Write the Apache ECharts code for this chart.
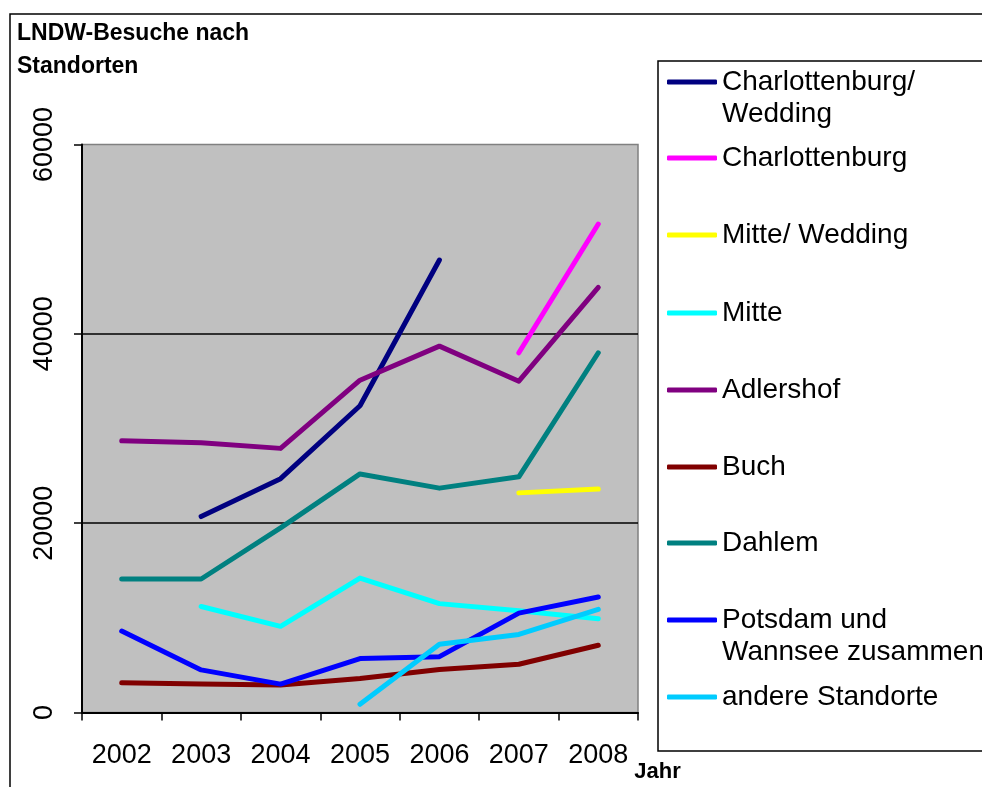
<!DOCTYPE html>
<html><head><meta charset="utf-8">
<script src="https://cdn.jsdelivr.net/npm/echarts@6/dist/echarts.min.js"></script>
<style>html,body{margin:0;padding:0;background:#fff}#c{width:982px;height:787px}</style>
</head><body><div id="c"></div>
<script>
const years = ['2002', '2003', '2004', '2005', '2006', '2007', '2008'];
const charlottenburgWedding = [null, 20700, 24700, 32400, 47800, null, null];
const charlottenburg = [null, null, null, null, null, 38000, 51600];
const mitteWedding = [null, null, null, null, null, 23200, 23600];
const mitte = [null, 11200, 9100, 14200, 11500, 10750, 9900];
const adlershof = [28700, 28500, 27900, 35100, 38700, 35000, 44900];
const buch = [3150, 3000, 2900, 3600, 4550, 5100, 7100];
const dahlem = [14100, 14100, 19500, 25200, 23700, 24900, 38000];
const potsdamWannsee = [8600, 4500, 3000, 5700, 5900, 10500, 12200];
const andereStandorte = [null, null, null, 870, 7200, 8250, 10900];

const seriesNames = ['Charlottenburg/ Wedding', 'Charlottenburg', 'Mitte/ Wedding', 'Mitte', 'Adlershof', 'Buch', 'Dahlem', 'Potsdam und Wannsee zusammen', 'andere Standorte'];
const legendLabels = ['Charlottenburg/\nWedding', 'Charlottenburg', 'Mitte/ Wedding', 'Mitte', 'Adlershof', 'Buch', 'Dahlem', 'Potsdam und\nWannsee zusammen', 'andere Standorte'];
const seriesData = [charlottenburgWedding, charlottenburg, mitteWedding, mitte, adlershof, buch, dahlem, potsdamWannsee, andereStandorte];
const seriesColors = ['#000080', '#FF00FF', '#FFFF00', '#00FFFF', '#800080', '#800000', '#008080', '#0000FF', '#00CCFF'];
const yMin = 0, yMax = 60000, yInterval = 20000;

const FONT = '"Liberation Sans", Arial, sans-serif';
const legendCenters = [81, 157, 234, 312, 389, 466, 542, 619, 696];
const LH = 32;

const legends = seriesNames.map((name, i) => {
  const twoLine = legendLabels[i].indexOf('\n') >= 0;
  // two-line labels get an empty first line so the first text line sits beside the icon
  const label = twoLine ? '\n' + legendLabels[i] : legendLabels[i];
  const boxH = LH * (twoLine ? 3 : 1);
  return {
    data: [name],
    orient: 'vertical',
    left: 667,
    top: legendCenters[i] - boxH / 2 + 1,
    padding: 0,
    itemWidth: 50,
    itemHeight: 5,
    icon: 'roundRect',
    formatter: () => label,
    textStyle: {fontFamily: FONT, fontSize: 28, color: '#000', lineHeight: LH}
  };
});

const chart = echarts.init(document.getElementById('c'), null, {renderer: 'canvas'});
chart.setOption({
  animation: false,
  backgroundColor: '#fff',
  title: {
    text: 'LNDW-Besuche nach\nStandorten',
    left: 17, top: 17, padding: 0,
    textStyle: {fontFamily: FONT, fontSize: 23, fontWeight: 'bold', color: '#000', lineHeight: 33}
  },
  graphic: [
    {type: 'rect', z: -10, shape: {x: 10, y: 14, width: 1000, height: 900}, style: {fill: 'none', stroke: '#000', lineWidth: 1.5}},
    {type: 'rect', z: -10, shape: {x: 658, y: 61, width: 400, height: 690}, style: {fill: '#fff', stroke: '#000', lineWidth: 1.5}}
  ],
  legend: legends,
  grid: {
    left: 82, top: 144.5, right: 344, bottom: 74.5,
    containLabel: false, outerBoundsMode: 'none',
    show: true, backgroundColor: '#C0C0C0', borderColor: '#808080', borderWidth: 1.5
  },
  xAxis: {
    type: 'category',
    data: years,
    boundaryGap: true,
    name: 'Jahr',
    nameLocation: 'end',
    nameGap: -8,
    nameTextStyle: {fontFamily: FONT, fontSize: 22, fontWeight: 'bold', color: '#000', align: 'left', verticalAlign: 'top', lineHeight: 119},
    axisLine: {lineStyle: {color: '#000', width: 2}},
    axisTick: {show: true, length: 8, lineStyle: {color: '#000', width: 1.5}},
    axisLabel: {interval: 0, margin: 30, fontFamily: FONT, fontSize: 27, color: '#000'},
    splitLine: {show: false}
  },
  yAxis: {
    type: 'value',
    min: yMin, max: yMax, interval: yInterval,
    axisLine: {show: true, lineStyle: {color: '#000', width: 2}},
    axisTick: {show: true, length: 8, lineStyle: {color: '#000', width: 1.5}},
    axisLabel: {rotate: 90, margin: 24, fontFamily: FONT, fontSize: 27, color: '#000', formatter: v => String(v)},
    splitLine: {show: true, showMinLine: false, showMaxLine: false, lineStyle: {color: '#000', width: 1.5}}
  },
  series: seriesNames.map((name, i) => ({
    name: name,
    type: 'line',
    data: seriesData[i],
    symbol: 'none',
    showSymbol: false,
    connectNulls: false,
    color: seriesColors[i],
    lineStyle: {color: seriesColors[i], width: 5, cap: 'round', join: 'round'},
    z: 2 + i
  }))
});
</script></body></html>
